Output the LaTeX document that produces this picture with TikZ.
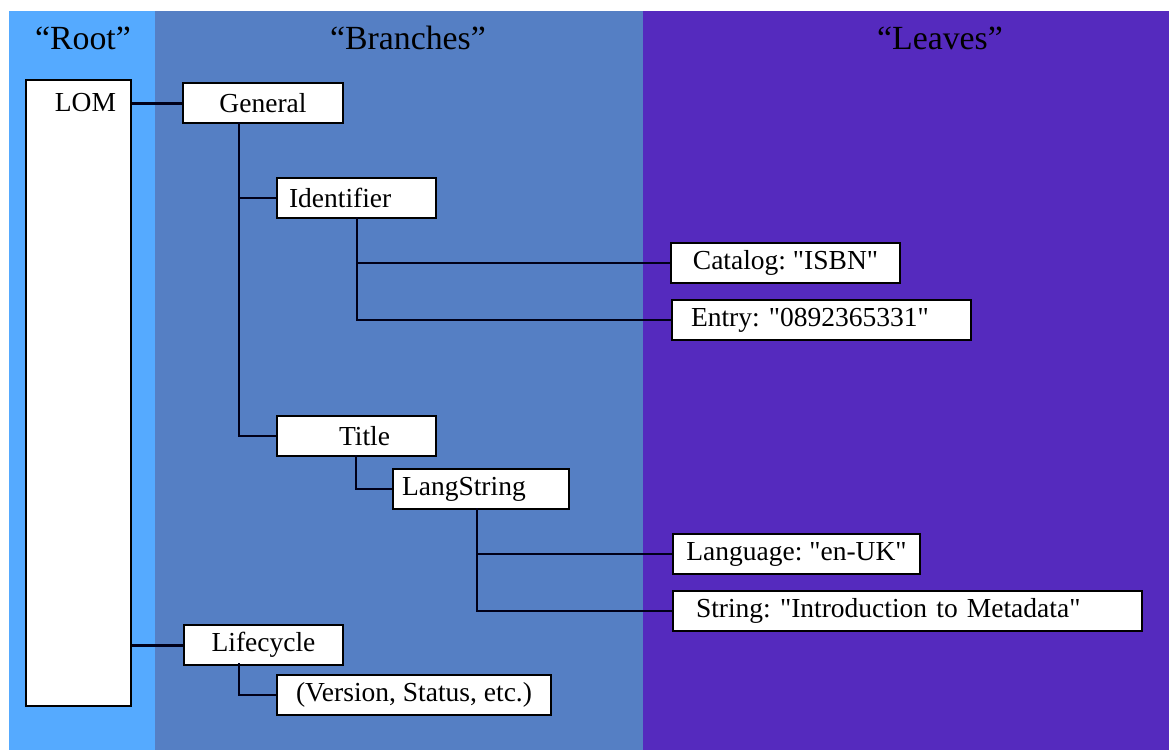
\documentclass[tikz,border=0pt]{standalone}
\usepackage{fontspec}
\setmainfont{Liberation Serif}
\newfontfamily\boxfont{Liberation Serif}

\definecolor{rootblue}{RGB}{85,170,255}
\definecolor{branchblue}{RGB}{85,127,196}
\definecolor{leafpurple}{RGB}{85,42,190}

\begin{document}
\frenchspacing
\begin{tikzpicture}[x=0.5pt,y=-0.5pt,
    box/.style={draw=black, line width=1pt, fill=white, anchor=north west,
        minimum height=20pt, inner ysep=0pt,
        font=\boxfont\fontsize{13.75}{16}\selectfont},
    lbox/.style 2 args={box, text width=#1, inner xsep=#2, align=left},
    head/.style={font=\fontsize{16.9}{20}\selectfont},
    link/.style={line width=1pt, draw=black!90!blue}]

% panels
\fill [white]      (0,0)    rectangle (1169,750);
\fill [rootblue]   (9,11)   rectangle (155,750);
\fill [branchblue] (155,11) rectangle (643,750);
\fill [leafpurple] (643,11) rectangle (1169,750);

\node [head] (roothead)   at (83,38)  {“Root”};
\node [head] (branchhead) at (408,38) {“Branches”};
\node [head] (leafhead)   at (940,38) {“Leaves”};

% root
\node [box, minimum width=52.5pt, minimum height=313pt] (lom) at (25,79) {};
\node [font=\boxfont\fontsize{13.75}{16}\selectfont] (lomlabel) at (85.5,103) {LOM};

% branches
\node [box, minimum width=80pt]   (general)    at (182,82)  {General};
\node [lbox={67.5pt}{6pt}]        (identifier) at (276,177) {Identifier};
\node [box, minimum width=79.5pt] (title)      at (276,415) {\hspace*{8pt}Title};
\node [lbox={79pt}{4.5pt}]        (langstring) at (392,468) {LangString};
\node [box, minimum width=79.5pt] (lifecycle)  at (183,624) {Lifecycle};
\node [box, minimum width=137pt]  (version)    at (276,674) {(Version, Status, etc.)};

% leaves
\node [box, minimum width=114.5pt] (catalog)  at (670,242) {Catalog: "ISBN"};
\node [lbox={130.5pt}{9.5pt}]      (entry)    at (671,299) {Entry: "0892365331"};
\node [box, minimum width=123.5pt] (language) at (672,533) {Language: "en-UK"};
\node [lbox={211.5pt}{11.5pt}]     (string)   at (672,590) {String: "Introduction to Metadata"};

% trunks
\coordinate (gtop) at (239,122);
\coordinate (itop) at (357,217);
\coordinate (ttop) at (356,455);
\coordinate (stop) at (477,508);
\coordinate (ctop) at (239,663);

\draw [link, line width=1.5pt] (general.west) -- (general.west -| lom.east);
\draw [link, line width=1.5pt] (lifecycle.west) -- (lifecycle.west -| lom.east);

\draw [link] (gtop) |- (title.west);
\draw [link] (gtop |- identifier.west) -- (identifier.west);
\draw [link] (itop) |- (entry.west);
\draw [link] (itop |- catalog.west) -- (catalog.west);
\draw [link] (ttop) |- (langstring.west);
\draw [link] (stop) |- (string.west);
\draw [link] (stop |- language.west) -- (language.west);
\draw [link] (ctop) |- (version.west);

\end{tikzpicture}
\end{document}
